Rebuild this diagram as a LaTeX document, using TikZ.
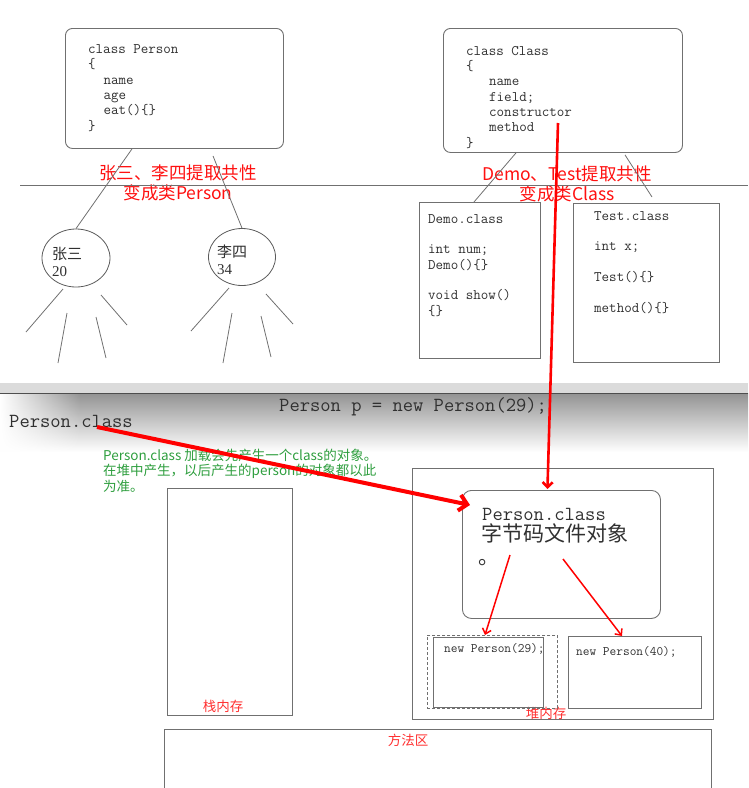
\documentclass[tikz,border=0pt]{standalone}
\usepackage{fontspec}
\setmainfont{Liberation Serif}
\newfontfamily\codefont{Latin Modern Mono}
\newfontfamily\cjk{Noto Sans CJK SC}
\usetikzlibrary{arrows.meta,shapes.geometric,fadings}

\definecolor{boxgray}{HTML}{707070}
\definecolor{txtgray}{HTML}{303030}
\definecolor{notered}{HTML}{FF1010}
\definecolor{labelred}{HTML}{FF3030}
\definecolor{notegreen}{HTML}{2E9E3E}

\tikzset{
  box/.style={draw=boxgray, line width=0.9pt, anchor=north west, inner sep=0pt},
  roundbox/.style={box, rounded corners=7pt},
  thinline/.style={draw=boxgray, line width=0.8pt},
  code/.style={anchor=base west, align=left, inner sep=0pt, text=txtgray,
    font=\codefont\fontsize{14.6}{15.3}\selectfont},
  bigcode/.style={anchor=base west, inner sep=0pt, text=txtgray,
    font=\codefont\fontsize{20}{22}\selectfont},
  smallcode/.style={anchor=base west, inner sep=0pt, text=txtgray,
    font=\codefont\fontsize{13}{14}\selectfont},
  heading/.style={align=center, inner sep=0pt, text=notered,
    font=\cjk\fontsize{17.5}{20}\selectfont},
  memlabel/.style={inner sep=0pt, text=labelred, font=\cjk\fontsize{13.5}{15}\selectfont},
  bigarrow/.style={draw=red, line width=4pt, -{Straight Barb[length=8pt,width=16pt]}},
  midarrow/.style={draw=red, line width=2.6pt, -{Straight Barb[length=5pt,width=10pt]}},
  thinarrow/.style={draw=red, line width=1.5pt, -{Straight Barb[length=5pt,width=9pt]}},
}

\begin{document}
\begin{tikzpicture}[x=1pt,y=-1pt]
\useasboundingbox (0,0) rectangle (748,788);

% the two common classes (text nodes sit on their last baseline)
\node[roundbox, minimum width=218pt, minimum height=120pt] (pcls) at (65,28) {};
\node[code] (pclstext) at (88,130) {class Person\\{\char`\{}\\\hspace*{15.4pt}name\\\hspace*{15.4pt}age\\\hspace*{15.4pt}eat(){\char`\{}{\char`\}}\\{\char`\}}};
\node[roundbox, minimum width=239pt, minimum height=124pt] (ccls) at (443,28) {};
\node[code] (cclstext) at (466,147) {class Class\\{\char`\{}\\\hspace*{23pt}name\\\hspace*{23pt}field;\\\hspace*{23pt}constructor\\\hspace*{23pt}method\\{\char`\}}};

\node[heading] (headl) at (178,183) {张三、李四提取共性\\变成类Person};
\node[heading] (headr) at (567,184) {Demo、Test提取共性\\变成类Class};

\draw[thinline] (20,185) -- (748,185);

% objects
\node[ellipse, draw=boxgray!80!black, line width=0.8pt, minimum width=68pt, minimum height=58pt] (zs) at (76,258) {};
\node[anchor=base west, align=left, inner sep=0pt, text=txtgray, font=\fontsize{15}{16.5}\selectfont] (zstext) at (52,276) {{\cjk 张三}\\20};
\node[ellipse, draw=boxgray!80!black, line width=0.8pt, minimum width=67pt, minimum height=57pt] (ls) at (242,257) {};
\node[anchor=base west, align=left, inner sep=0pt, text=txtgray, font=\fontsize{15}{16.5}\selectfont] (lstext) at (217,274) {{\cjk 李四}\\34};

\draw[thinline] ([xshift=67pt]pcls.south west) -- (zs.north);
\draw[thinline] ([xshift=148pt,yshift=-7pt]pcls.south west) -- (ls.north);
\foreach \a/\b/\c/\d in {63/289/26/332, 67/313/58/363, 96/317/106/358, 101/295/127/325,
  229/288/191/331, 232/313/223/363, 261/316/271/357, 266/294/293/324}
  \draw[thinline] (\a,\b) -- (\c,\d);

\node[box, minimum width=121pt, minimum height=156pt] (demo) at (419,202) {};
\node[code] (demotext) at (428,315) {Demo.class\\[15.3pt]int num;\\Demo(){\char`\{}{\char`\}}\\[15.3pt]void show()\\{\char`\{}{\char`\}}};
\node[box, minimum width=146pt, minimum height=159pt] (test) at (573,203) {};
\node[code] (testtext) at (594,312) {Test.class\\[15.3pt]int x;\\[15.3pt]Test(){\char`\{}{\char`\}}\\[15.3pt]method(){\char`\{}{\char`\}}};

\draw[thinline] ([xshift=73pt]ccls.south west) -- ([xshift=55pt]demo.north west);
\draw[thinline] ([xshift=182pt,yshift=-2pt]ccls.south west) -- ([xshift=79pt,yshift=6pt]test.north west);

% screenshot band
\fill[gray!28] (0,383) rectangle (748,393);
\shade[top color=gray!85, bottom color=white] (0,393) rectangle (748,452);
\fill[white, path fading=east] (0,393) rectangle (80,452);
\draw[boxgray!70!black, line width=0.8pt] (0,393) -- (748,393);
\node[bigcode] (newp) at (279,411) {Person p = new Person(29);};
\node[bigcode] (pclabel) at (9,427) {Person.class};

\node[anchor=base west, align=left, inner sep=0pt, text=notegreen, font=\cjk\fontsize{13.5}{15.5}\selectfont] (note) at (103,491) {Person.class 加载会先产生一个class的对象。\\在堆中产生，以后产生的person的对象都以此\\为准。};

% memory
\node[box, minimum width=125pt, minimum height=227pt] (stack) at (167,488) {};
\node[memlabel] (stacklabel) at (223,706) {栈内存};
\node[box, minimum width=301pt, minimum height=251pt] (heap) at (412,468) {};
\node[memlabel] (heaplabel) at (546,713) {堆内存};
\node[box, minimum width=547pt, minimum height=80pt] (method) at (164,729) {};
\node[memlabel] (methodlabel) at (408,740) {方法区};

\node[roundbox, rounded corners=9pt, minimum width=198pt, minimum height=128pt] (pcobj) at (462,490) {};
\node[bigcode] (pcobjname) at (482,520) {Person.class};
\node[anchor=base west, inner sep=0pt, text=txtgray, font=\cjk\fontsize{21}{22}\selectfont] (pcobjcjk) at (481,541) {字节码文件对象};
\node[anchor=base west, inner sep=0pt, text=txtgray, font=\cjk\fontsize{21}{22}\selectfont] (pcobjdot) at (478,564) {。};

\node[draw=boxgray, line width=0.9pt, dash pattern=on 3pt off 2pt, anchor=north west, inner sep=0pt, minimum width=130pt, minimum height=73pt] (p29dash) at (427,635) {};
\node[box, minimum width=110pt, minimum height=70pt] (p29) at (433,637) {};
\node[smallcode] (p29text) at (444,652) {new Person(29);};
\node[box, minimum width=133pt, minimum height=72pt] (p40) at (568,636) {};
\node[smallcode] (p40text) at (576,655) {new Person(40);};

% arrows
\coordinate (ctor) at (558,123);
\draw[bigarrow] ([xshift=88pt]pclabel.base west) -- ([xshift=8pt,yshift=-15pt]pcobj.north west);
\draw[midarrow] (ctor) -- ([xshift=-14pt,yshift=1pt]pcobj.north);
\draw[thinarrow] ([xshift=48pt,yshift=-65pt]pcobj.north west) -- ([xshift=58pt]p29dash.north west);
\draw[thinarrow] ([xshift=101pt,yshift=-69pt]pcobj.north west) -- ([xshift=54pt]p40.north west);
\end{tikzpicture}
\end{document}
